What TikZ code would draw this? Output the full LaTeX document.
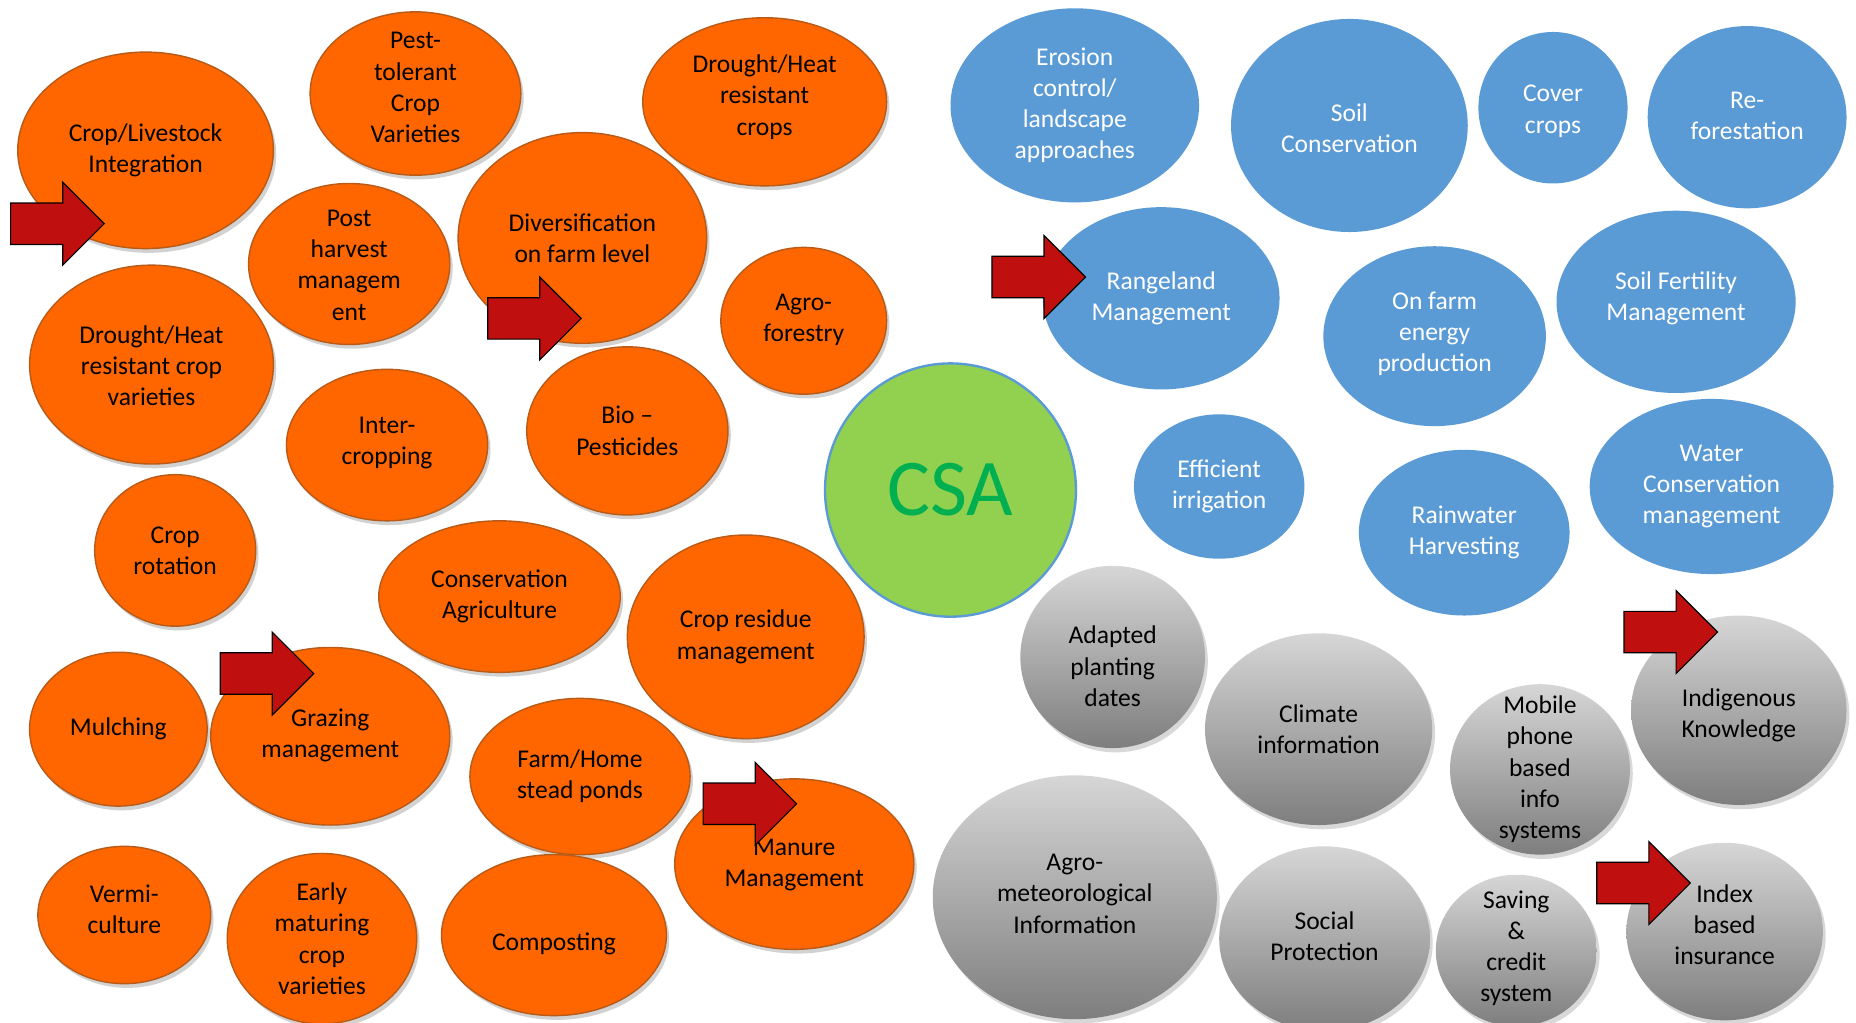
\documentclass[tikz,border=0pt]{standalone}
\usepackage{fontspec}
\setmainfont{Carlito}
\usetikzlibrary{shapes.geometric,shadows}
\definecolor{org}{HTML}{FF6600}
\definecolor{orgE}{HTML}{B85A18}
\definecolor{blu}{HTML}{5B9BD5}
\definecolor{grn}{HTML}{92D050}
\definecolor{grnE}{HTML}{5B9BD5}
\definecolor{grnT}{HTML}{00B050}
\definecolor{arr}{HTML}{C00F0F}
\definecolor{gyT}{HTML}{D6D6D6}
\definecolor{gyM}{HTML}{B3B3B3}
\definecolor{gyB}{HTML}{7E7E7E}
\tikzset{
  bub/.style={ellipse, inner sep=0pt},
  orangeb/.style={bub, fill=org, draw=orgE, line width=0.6pt,
    drop shadow={shadow xshift=1.2pt, shadow yshift=-1.8pt, opacity=0.35}},
  blueb/.style={bub, fill=blu},
  greenb/.style={bub, fill=grn, draw=grnE, line width=1pt},
  grayb/.style={bub, top color=gyT, middle color=gyM, bottom color=gyB,
    drop shadow={shadow xshift=1.2pt, shadow yshift=-1.8pt, opacity=0.3}},
  txtk/.style={align=center, inner sep=0pt, text=black,
    font=\fontsize{10.8}{13.2}\selectfont},
  txtw/.style={align=center, inner sep=0pt, text=white,
    font=\fontsize{10.8}{13.2}\selectfont},
  arrowshape/.style={fill=arr, draw=black, line width=0.5pt, line join=miter},
}
% style, textstyle, name, cx, cy, rx, ry, ty, text
\newcommand\bub[9]{%
  \node[#1, minimum width=#6pt, minimum height=#7pt] (#3) at (#4,#5) {};
  \node[#2] (#3t) at (#4,#8) {#9};}
\newcommand\redarrow[2]{%
  \draw[arrowshape] (#1-79,#2-17.5) -- (#1-35,#2-17.5) -- (#1-35,#2-35) -- (#1,#2)
    -- (#1-35,#2+35) -- (#1-35,#2+17.5) -- (#1-79,#2+17.5) -- cycle;}
\begin{document}
\begin{tikzpicture}[x=0.5pt,y=-0.5pt]
\fill[white] (0,0) rectangle (1568,864);
\useasboundingbox (0,0) rectangle (1568,864);
% orange
\bub{orangeb}{txtk}{o1}{123}{127}{108}{83}{127}{Crop/Livestock\\Integration}
\bub{orangeb}{txtk}{o2}{351}{79}{89}{69}{74}{Pest-\\tolerant\\Crop\\Varieties}
\bub{orangeb}{txtk}{o3}{646}{86}{103}{71}{82}{Drought/Heat\\resistant\\crops}
\bub{orangeb}{txtk}{o5}{492}{201}{105}{89}{201}{Diversification\\on farm level}
\bub{orangeb}{txtk}{o4}{295}{223}{85}{68}{224}{Post\\harvest\\managem\\ent}
\bub{orangeb}{txtk}{o6}{128}{308}{103}{84}{309}{Drought/Heat\\resistant crop\\varieties}
\bub{orangeb}{txtk}{o7}{679}{271}{70}{62}{270}{Agro-\\forestry}
\bub{orangeb}{txtk}{o8}{327}{376}{85}{64}{374}{Inter-\\cropping}
\bub{orangeb}{txtk}{o9}{530}{364}{85}{71}{364}{Bio --\\Pesticides}
\bub{orangeb}{txtk}{o10}{148}{465}{68}{64}{465}{Crop\\rotation}
\bub{orangeb}{txtk}{o11}{422}{504}{102}{64}{504}{Conservation\\Agriculture}
\bub{orangeb}{txtk}{o12}{630}{538}{100}{86}{538}{Crop residue\\management}
\bub{orangeb}{txtk}{o13}{100}{616}{75}{65}{616}{Mulching}
\bub{orangeb}{txtk}{o14}{279}{622}{101}{75}{621}{Grazing\\management}
\bub{orangeb}{txtk}{o15}{490}{656}{93}{66}{656}{Farm/Home\\stead ponds}
\bub{orangeb}{txtk}{o16}{671}{730}{101}{72}{731}{Manure\\Management}
\bub{orangeb}{txtk}{o17}{105}{773}{73}{58}{768}{Vermi-\\culture}
\bub{orangeb}{txtk}{o18}{272}{793}{80}{72}{793}{Early\\maturing\\crop\\varieties}
\bub{orangeb}{txtk}{o19}{468}{790}{95}{68}{797}{Composting}
% green
\node[greenb, minimum width=106pt, minimum height=107pt] (csa) at (803,414) {};
\node[inner sep=0pt, text=grnT, font=\fontsize{34}{38}\selectfont] (csat) at (803,414) {CSA};
% blue
\bub{blueb}{txtw}{b1}{908}{89}{105}{82}{89}{Erosion\\control/\\landscape\\approaches}
\bub{blueb}{txtw}{b2}{1140}{106}{100}{90}{108}{Soil\\Conservation}
\bub{blueb}{txtw}{b3}{1312}{91}{63}{64}{94}{Cover\\crops}
\bub{blueb}{txtw}{b4}{1476}{99}{84}{77}{98}{Re-\\forestation}
\bub{blueb}{txtw}{b5}{981}{252}{100}{77}{252}{Rangeland\\Management}
\bub{blueb}{txtw}{b6}{1212}{284}{94}{76}{282}{On farm\\energy\\production}
\bub{blueb}{txtw}{b7}{1416}{255}{101}{77}{252}{Soil Fertility\\Management}
\bub{blueb}{txtw}{b8}{1030}{411}{72}{61}{411}{Efficient\\irrigation}
\bub{blueb}{txtw}{b9}{1237}{450}{89}{70}{450}{Rainwater\\Harvesting}
\bub{blueb}{txtw}{b10}{1446}{411}{103}{74}{411}{Water\\Conservation\\management}
% gray
\bub{grayb}{txtk}{g1}{940}{555}{78}{77}{563}{Adapted\\planting\\dates}
\bub{grayb}{txtk}{g2}{1114}{616}{96}{81}{616}{Climate\\information}
\bub{grayb}{txtk}{g3}{1301}{650}{76}{72}{650}{Mobile\\phone\\based\\info\\systems}
\bub{grayb}{txtk}{g4}{1469}{600}{91}{80}{604}{Indigenous\\Knowledge}
\bub{grayb}{txtk}{g5}{908}{758}{120}{103}{755}{Agro-\\meteorological\\Information}
\bub{grayb}{txtk}{g6}{1119}{793}{89}{78}{791}{Social\\Protection}
\bub{grayb}{txtk}{g7}{1281}{803}{68}{64}{801}{Saving\\\&\\credit\\system}
\bub{grayb}{txtk}{g8}{1457}{787}{83}{75}{781}{Index\\based\\insurance}
% red arrows
\redarrow{88}{189}
\redarrow{491}{269}
\redarrow{917}{234}
\redarrow{265}{569}
\redarrow{673}{679}
\redarrow{1451}{534}
\redarrow{1428}{746}
\end{tikzpicture}
\end{document}
